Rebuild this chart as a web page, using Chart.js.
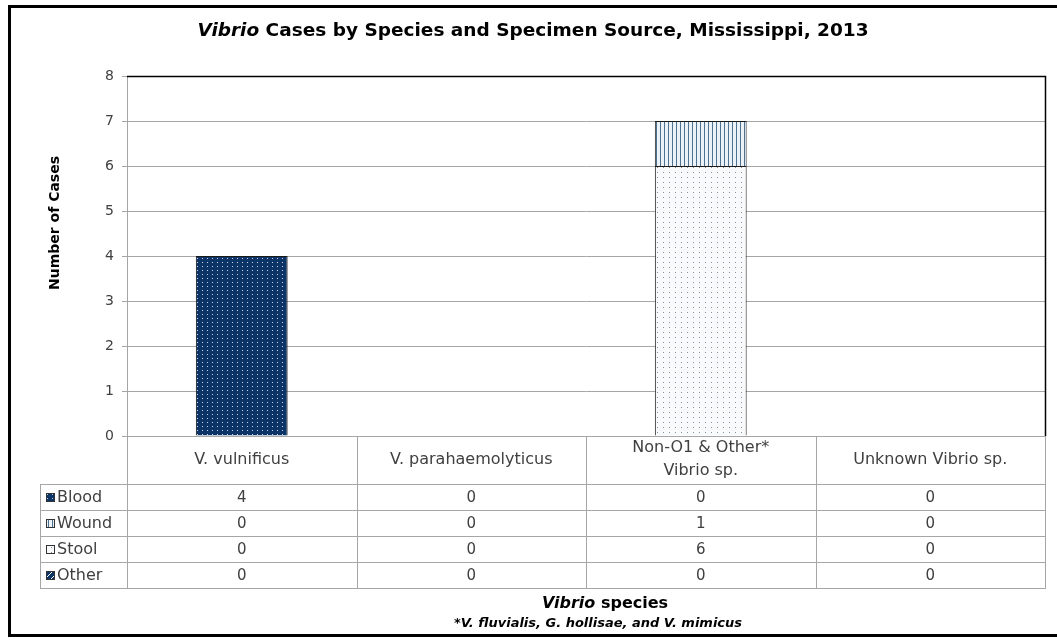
<!DOCTYPE html>
<html>
<head>
<meta charset="utf-8">
<script src="https://cdn.jsdelivr.net/npm/chart.js@4.4.0/dist/chart.umd.min.js"></script>
<style>
  body { margin: 0; background: #fff; }
</style>
</head>
<body>
<canvas id="vibrioChart" width="1057" height="640"></canvas>
<script>
// data
const species = [['V. vulnificus'], ['V. parahaemolyticus'], ['Non-O1 & Other*', 'Vibrio sp.'], ['Unknown Vibrio sp.']]
const sources = ['Blood', 'Wound', 'Stool', 'Other']
const blood = [4, 0, 0, 0]
const wound = [0, 0, 1, 0]
const stool = [0, 0, 6, 0]
const other = [0, 0, 0, 0]
const yTicks = [0, 1, 2, 3, 4, 5, 6, 7, 8]
// stool sits under wound in the stacked bar
const stackOrder = [0, 2, 1, 3]

const FONT = "'DejaVu Sans', sans-serif"
const GRAY = '#a6a6a6'
const TEXT = '#404040'

const canvas = document.getElementById('vibrioChart')
const mainCtx = canvas.getContext('2d')

function makePattern(w, h, bg, draw) {
    const c = document.createElement('canvas')
    c.width = w
    c.height = h
    const g = c.getContext('2d')
    g.fillStyle = bg
    g.fillRect(0, 0, w, h)
    draw(g)
    return mainCtx.createPattern(c, 'repeat')
}

// Excel style pattern fills
const bloodFill = makePattern(5, 4, '#0c3466', g => { g.fillStyle = '#c6d4e6'; g.fillRect(2, 2, 1, 1) })
const woundFill = makePattern(4, 1, '#eaf2f8', g => { g.fillStyle = '#4f7190'; g.fillRect(0, 0, 1, 1) })
const stoolFill = makePattern(6, 5, '#f8fafc', g => { g.fillStyle = '#8a9098'; g.fillRect(3, 2, 1, 1) })
const otherFill = makePattern(6, 6, '#0c3466', g => {
    g.fillStyle = '#ffffff'
    for (let i = 0; i < 6; i++) { g.fillRect(i, 5 - i, 1, 1) }
})
const fills = [bloodFill, woundFill, stoolFill, otherFill]
const series = [blood, wound, stool, other]

// draws mixed italic / normal text pieces centred on cx
function mixedText(ctx, parts, cx, cy, size) {
    let total = 0
    parts.forEach(p => {
        ctx.font = (p.italic ? 'italic ' : '') + 'bold ' + size + 'px ' + FONT
        p.w = ctx.measureText(p.text).width
        total += p.w
    })
    let x = cx - total / 2
    ctx.textAlign = 'left'
    ctx.textBaseline = 'middle'
    parts.forEach(p => {
        ctx.font = (p.italic ? 'italic ' : '') + 'bold ' + size + 'px ' + FONT
        ctx.fillText(p.text, x, cy)
        x += p.w
    })
}

const tablePlugin = {
    id: 'tablePlugin',
    afterDraw(chart) {
        const ctx = chart.ctx
        const xs = chart.scales.x
        const area = chart.chartArea
        const half = (xs.getPixelForValue(1) - xs.getPixelForValue(0)) / 2
        const headBottom = area.bottom + 48
        const rowH = 26
        const tableBottom = headBottom + rowH * sources.length
        const legLeft = 40
        ctx.save()

        // plot frame top / right
        ctx.strokeStyle = '#000'
        ctx.lineWidth = 1.5
        ctx.beginPath()
        ctx.moveTo(area.left, area.top + 0.5)
        ctx.lineTo(area.right + 0.5, area.top + 0.5)
        ctx.lineTo(area.right + 0.5, area.bottom)
        ctx.stroke()

        // table grid
        ctx.strokeStyle = GRAY
        ctx.lineWidth = 1
        ctx.beginPath()
        for (let r = 0; r <= sources.length; r++) {
            const yy = Math.round(headBottom + r * rowH) + 0.5
            ctx.moveTo(legLeft, yy)
            ctx.lineTo(area.right + 1, yy)
        }
        ctx.moveTo(legLeft + 0.5, headBottom)
        ctx.lineTo(legLeft + 0.5, tableBottom)
        for (let i = 0; i <= species.length; i++) {
            const xx = Math.round(xs.getPixelForValue(i) - half) + 0.5
            ctx.moveTo(xx, area.bottom)
            ctx.lineTo(xx, tableBottom + 1)
        }
        ctx.stroke()

        // legend keys + values
        ctx.textBaseline = 'middle'
        sources.forEach((s, r) => {
            const cy = headBottom + r * rowH + rowH / 2
            ctx.fillStyle = fills[r]
            ctx.fillRect(46, cy - 4, 9, 9)
            ctx.strokeStyle = '#333'
            ctx.strokeRect(46.5, cy - 3.5, 8, 8)
            ctx.fillStyle = TEXT
            ctx.font = '16px ' + FONT
            ctx.textAlign = 'left'
            ctx.fillText(s, 57, cy + 1)
            ctx.font = '15px ' + FONT
            ctx.textAlign = 'center'
            series[r].forEach((v, i) => {
                ctx.fillText(String(v), xs.getPixelForValue(i), cy + 1)
            })
        })

        // titles
        ctx.fillStyle = '#000'
        mixedText(ctx, [{ text: 'Vibrio', italic: true }, { text: ' Cases by Species and Specimen Source, Mississippi, 2013' }], 533, 31, 18.5)
        mixedText(ctx, [{ text: 'Vibrio', italic: true }, { text: ' species' }], 605, 604, 16)
        mixedText(ctx, [{ text: '*V. fluvialis, G. hollisae, and V. mimicus', italic: true }], 598, 624, 13)

        ctx.translate(55, 223)
        ctx.rotate(-Math.PI / 2)
        ctx.font = 'bold 14px ' + FONT
        ctx.textAlign = 'center'
        ctx.fillText('Number of Cases', 0, 0)
        ctx.setTransform(1, 0, 0, 1, 0, 0)

        // outer frame
        ctx.strokeStyle = '#000'
        ctx.lineWidth = 3
        ctx.strokeRect(9.5, 6.5, 1060, 629)
        ctx.restore()
    }
}

const datasets = sources.map((s, i) => ({
    label: s,
    data: series[i],
    order: stackOrder[i],
    backgroundColor: fills[i],
    borderColor: '#1a1a1a',
    borderWidth: 1,
    barPercentage: 0.4,
    categoryPercentage: 1,
}))

new Chart(canvas, {
    type: 'bar',
    data: { labels: species, datasets: datasets },
    options: {
        responsive: false,
        animation: false,
        layout: { padding: { top: 76, left: 0, right: 12, bottom: 0 } },
        plugins: {
            legend: { display: false },
            tooltip: { enabled: false },
        },
        scales: {
            x: {
                stacked: true,
                grid: { display: false },
                border: { display: false },
                afterFit: s => { s.height = 204 },
                ticks: {
                    autoSkip: false,
                    maxRotation: 0,
                    crossAlign: 'center',
                    padding: 4,
                    color: TEXT,
                    font: { family: FONT, size: 16, lineHeight: 1.45 },
                },
            },
            y: {
                stacked: true,
                min: yTicks[0],
                max: yTicks[yTicks.length - 1],
                afterFit: s => { s.width = 127 },
                border: { color: GRAY },
                grid: {
                    color: GRAY,
                    tickLength: 5,
                },
                ticks: {
                    stepSize: 1,
                    padding: 8,
                    color: TEXT,
                    font: { family: FONT, size: 14 },
                },
            },
        },
    },
    plugins: [tablePlugin],
})
</script>
</body>
</html>
